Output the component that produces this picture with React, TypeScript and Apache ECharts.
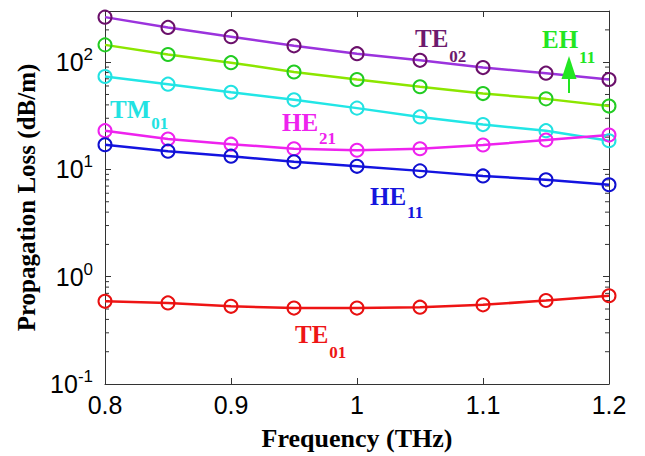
import React, { useEffect, useRef } from "react";
import * as echarts from "echarts";

const freq = [0.8, 0.85, 0.9, 0.95, 1.0, 1.05, 1.1, 1.15, 1.2];
const te02 = [263, 211, 173, 142, 120, 104, 89, 79, 69];
const eh11 = [145, 118, 99, 81, 69, 59, 51, 45.5, 39];
const tm01 = [73.5, 62.4, 52.4, 44.6, 37.3, 30.9, 26.2, 23, 18.5];
const he21 = [23, 19.2, 17.2, 15.6, 15.1, 15.6, 16.9, 18.8, 20.9];
const he11 = [17, 14.8, 13.3, 11.8, 10.7, 9.7, 8.7, 8.0, 7.2];
const te01 = [0.59, 0.57, 0.53, 0.51, 0.51, 0.52, 0.547, 0.6, 0.665];

const xTicks = [0.8, 0.9, 1.0, 1.1, 1.2];
const yMin = 0.1;
const yMax = 300;
const minorTickValues = [
  0.2, 0.3, 0.4, 0.5, 0.6, 0.7, 0.8, 0.9,
  2, 3, 4, 5, 6, 7, 8, 9,
  20, 30, 40, 50, 60, 70, 80, 90,
  200,
];

const seriesDefs = [
  { name: "TE02", data: te02, line: "#9b33dd", marker: "#6b106b" },
  { name: "EH11", data: eh11, line: "#8ce600", marker: "#22cc22" },
  { name: "TM01", data: tm01, line: "#22e6e6", marker: "#22e2e2" },
  { name: "HE21", data: he21, line: "#ee22ee", marker: "#ee22ee" },
  { name: "HE11", data: he11, line: "#1414e0", marker: "#1010d0" },
  { name: "TE01", data: te01, line: "#ee1414", marker: "#e81010" },
];

const modeLabels = [
  { main: "TE", sub: "02", color: "#6d1a6d", x: 415, y: 38, sy: 56 },
  { main: "EH", sub: "11", color: "#22e622", x: 542, y: 39, sy: 57 },
  { main: "TM", sub: "01", color: "#22e2e2", x: 110, y: 109, sy: 123 },
  { main: "HE", sub: "21", color: "#ee22ee", x: 282, y: 122, sy: 138 },
  { main: "HE", sub: "11", color: "#1515dd", x: 370, y: 196, sy: 212 },
  { main: "TE", sub: "01", color: "#ee1515", x: 295, y: 334, sy: 352 },
];

const SERIF = "'Liberation Serif', 'Times New Roman', serif";
const SANS = "'Liberation Sans', Arial, sans-serif";
const FRAME = "#333333";
const MAIN_FONT = `bold 25px ${SERIF}`;
const SUB_FONT = `bold 17px ${SERIF}`;

export default function App() {
  const ref = useRef<HTMLDivElement>(null);

  useEffect(() => {
    if (!ref.current) return;
    const chart = echarts.init(ref.current, undefined, { renderer: "svg" });

    const graphics: any[] = [];
    modeLabels.forEach((l) => {
      const w = echarts.format.getTextRect
        ? (echarts.format as any).getTextRect(l.main, MAIN_FONT).width
        : l.main.length * 17;
      graphics.push({
        type: "text",
        x: l.x,
        y: l.y,
        style: {
          text: l.main,
          fill: l.color,
          font: MAIN_FONT,
          textAlign: "left",
          textVerticalAlign: "middle",
        },
        z: 100,
      });
      graphics.push({
        type: "text",
        x: l.x + w + 1,
        y: l.sy,
        style: {
          text: l.sub,
          fill: l.color,
          font: SUB_FONT,
          textAlign: "left",
          textVerticalAlign: "middle",
        },
        z: 100,
      });
    });
    // EH11 arrow
    graphics.push({
      type: "line",
      shape: { x1: 569, y1: 77, x2: 569, y2: 93 },
      style: { stroke: "#22e622", lineWidth: 2 },
      z: 100,
    });
    graphics.push({
      type: "polygon",
      shape: { points: [[569, 56], [561.5, 79], [576.5, 79]] },
      style: { fill: "#22e622" },
      z: 100,
    });

    const lineSeries = seriesDefs.map((s) => ({
      type: "line",
      name: s.name,
      data: freq.map((f, i) => [f, s.data[i]]),
      symbol: "circle",
      symbolSize: 13,
      showSymbol: true,
      lineStyle: { color: s.line, width: 2.5 },
      itemStyle: { color: "rgba(255,255,255,0)", borderColor: s.marker, borderWidth: 2 },
      emphasis: { disabled: true },
      z: 3,
    }));

    const minorTickSeries = {
      type: "custom",
      silent: true,
      clip: false,
      data: minorTickValues.map((v) => [0.8, v]),
      encode: { x: 0, y: 1 },
      renderItem: (params: any, api: any) => {
        const v = api.value(1);
        const p0 = api.coord([0.8, v]);
        const p1 = api.coord([1.2, v]);
        return {
          type: "group",
          children: [
            {
              type: "line",
              shape: { x1: p0[0], y1: p0[1], x2: p0[0] + 4, y2: p0[1] },
              style: { stroke: FRAME, lineWidth: 1 },
            },
            {
              type: "line",
              shape: { x1: p1[0] - 4, y1: p1[1], x2: p1[0], y2: p1[1] },
              style: { stroke: FRAME, lineWidth: 1 },
            },
          ],
        };
      },
      z: 1,
    };

    const yLabelFormatter = (v: number) => {
      const e = Math.log10(v);
      const r = Math.round(e);
      if (Math.abs(e - r) > 0.01) return "";
      return `{b|10}{s|${r}}`;
    };

    const option: any = {
      animation: false,
      backgroundColor: "#ffffff",
      grid: { left: 105, right: 36, top: 11, bottom: 67 },
      xAxis: [
        {
          type: "value",
          min: xTicks[0],
          max: xTicks[xTicks.length - 1],
          interval: 0.1,
          name: "Frequency (THz)",
          nameLocation: "middle",
          nameGap: 41,
          nameTextStyle: { fontFamily: SERIF, fontWeight: "bold", fontSize: 26, color: "#000" },
          axisLine: { show: true, lineStyle: { color: FRAME, width: 1 } },
          axisTick: { show: true, inside: true, length: 6, lineStyle: { color: FRAME } },
          axisLabel: { fontFamily: SANS, fontSize: 25, color: "#000", margin: 8 },
          splitLine: { show: false },
        },
        {
          type: "value",
          position: "top",
          min: xTicks[0],
          max: xTicks[xTicks.length - 1],
          interval: 0.1,
          axisLine: { show: true, lineStyle: { color: FRAME, width: 1 } },
          axisTick: { show: true, inside: true, length: 6, lineStyle: { color: FRAME } },
          axisLabel: { show: false },
          splitLine: { show: false },
        },
      ],
      yAxis: [
        {
          type: "log",
          logBase: 10,
          min: yMin,
          max: yMax,
          name: "Propagation Loss (dB/m)",
          nameLocation: "middle",
          nameGap: 65,
          nameTextStyle: { fontFamily: SERIF, fontWeight: "bold", fontSize: 25, color: "#000" },
          axisLine: { show: true, lineStyle: { color: FRAME, width: 1 } },
          axisTick: { show: true, inside: true, length: 6, lineStyle: { color: FRAME } },
          axisLabel: {
            formatter: yLabelFormatter,
            showMaxLabel: false,
            margin: 12,
            rich: {
              b: { fontFamily: SANS, fontSize: 25, color: "#000", lineHeight: 32 },
              s: { fontFamily: SANS, fontSize: 17, color: "#000", lineHeight: 17, verticalAlign: "top" },
            },
          },
          splitLine: { show: false },
        },
        {
          type: "log",
          logBase: 10,
          min: yMin,
          max: yMax,
          position: "right",
          axisLine: { show: true, lineStyle: { color: FRAME, width: 1 } },
          axisTick: { show: true, inside: true, length: 6, lineStyle: { color: FRAME } },
          axisLabel: { show: false },
          splitLine: { show: false },
        },
      ],
      series: [...lineSeries, minorTickSeries],
      graphic: graphics,
    };

    chart.setOption(option);
    return () => chart.dispose();
  }, []);

  return (
    <div
      ref={ref}
      style={{ position: "fixed", left: 0, top: 0, width: 645, height: 456, background: "#fff" }}
    />
  );
}
